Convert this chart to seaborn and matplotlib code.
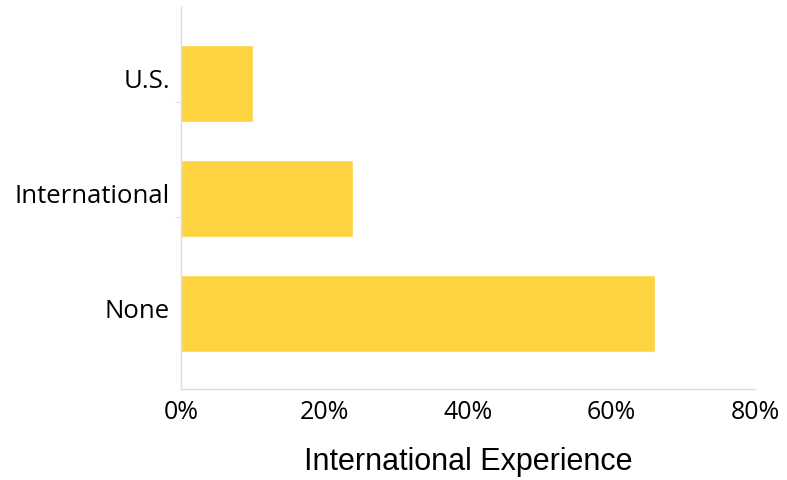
import numpy as np
import pandas as pd
import matplotlib.pyplot as plt
import matplotlib.transforms as mtransforms
import seaborn as sns
from matplotlib.ticker import PercentFormatter

# Data
categories = ['U.S.', 'International', 'None']
shares = [10, 24, 66]

df = pd.DataFrame({'experience': categories, 'share': shares})

sns.set_style('white')
plt.rcParams['font.family'] = ['Open Sans', 'DejaVu Sans']
plt.rcParams['text.color'] = 'black'
plt.rcParams['xtick.color'] = 'black'
plt.rcParams['ytick.color'] = 'black'
plt.rcParams['axes.labelcolor'] = 'black'

fig = plt.figure(figsize=(7.87, 4.81), dpi=100)
ax = fig.add_axes([0.230, 0.189, 0.7293, 0.7944])

sns.barplot(data=df, x='share', y='experience', color='#FDD33F', saturation=1,
            width=0.67, orient='h', ax=ax)

ax.set_xlim(0, 80)
ax.set_ylim(2.657, -0.665)
ax.set_xticks([0, 20, 40, 60, 80])
ax.xaxis.set_major_formatter(PercentFormatter(decimals=0))
ax.set_yticks(range(len(categories)), minor=False)
ax.set_yticks([i + 0.165 for i in range(len(categories) - 1)], minor=True)

for s in ['top', 'right']:
    ax.spines[s].set_visible(False)
for s in ['left', 'bottom']:
    ax.spines[s].set_color('#dcdcdc')
    ax.spines[s].set_linewidth(1)

ax.tick_params(axis='x', length=4, color='#dcdcdc', labelcolor='black', labelsize=18, pad=3)
ax.tick_params(axis='y', which='major', length=7, color='#dcdcdc', labelcolor='black',
               labelsize=18.5, pad=1)
ax.tick_params(axis='y', which='minor', length=4, color='#dcdcdc', left=True)

# category labels sit a little above their tick marks
shift = mtransforms.ScaledTranslation(0, 6 / 100, fig.dpi_scale_trans)
for lab in ax.get_yticklabels():
    lab.set_transform(lab.get_transform() + shift)

ax.set_ylabel('')
ax.set_xlabel('International Experience', fontsize=22, color='black',
              family=['Liberation Sans', 'DejaVu Sans'], labelpad=16)

fig.savefig('out.png', dpi=100)
